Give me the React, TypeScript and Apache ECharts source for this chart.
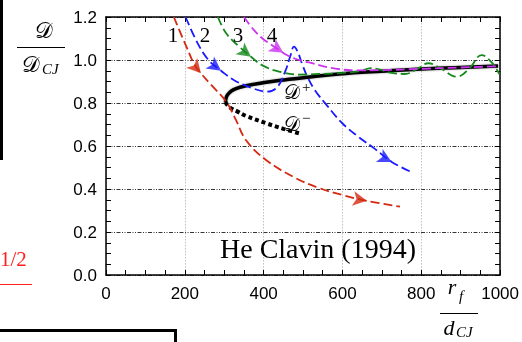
import React, { useEffect, useRef } from "react";
import * as echarts from "echarts";

// ---- data (rf / dCJ, D / DCJ) ----
const curve1Rf = [172, 204, 225, 241, 267, 305, 330, 355, 406, 482, 540, 600, 662, 746];
const curve1D = [1.2, 1.062, 0.977, 0.938, 0.884, 0.806, 0.72, 0.628, 0.535, 0.45, 0.405, 0.372, 0.345, 0.318];

const curve2Rf = [202, 232, 260, 292, 326, 376, 410, 435, 456, 468, 477, 486, 498, 511, 530, 560, 599, 641, 680, 725, 775];
const curve2D = [1.2, 1.08, 1.0, 0.95, 0.905, 0.866, 0.853, 0.875, 0.953, 1.02, 1.062, 1.04, 0.98, 0.922, 0.86, 0.79, 0.707, 0.642, 0.59, 0.526, 0.479];

const curve3Rf = [284, 305, 338, 368, 397, 439, 490, 540, 600, 645, 672, 695, 725, 758, 790, 818, 850, 890, 922, 953, 978, 998];
const curve3D = [1.2, 1.124, 1.062, 1.015, 0.975, 0.946, 0.932, 0.935, 0.94, 0.948, 0.962, 0.955, 0.94, 0.935, 0.958, 0.985, 0.96, 0.922, 0.96, 1.023, 0.99, 0.935];

const curve4Rf = [350, 375, 397, 420, 439, 460, 490, 523, 573, 633, 700, 800, 900, 995];
const curve4D = [1.2, 1.14, 1.1, 1.07, 1.047, 1.022, 1.0, 0.985, 0.963, 0.952, 0.953, 0.959, 0.965, 0.971];

const dPlusRf = [303, 306, 313, 324, 340, 372, 439, 523, 591, 700, 800, 900, 995];
const dPlusD = [0.805, 0.83, 0.848, 0.862, 0.873, 0.886, 0.905, 0.922, 0.935, 0.948, 0.958, 0.965, 0.972];

const dMinusRf = [303, 308, 318, 334, 355, 406, 450, 490];
const dMinusD = [0.805, 0.79, 0.775, 0.76, 0.74, 0.706, 0.68, 0.659];

// arrows: which curve, at which rf
const arrowCurve = [0, 1, 2, 3, 0, 1];
const arrowRf = [241, 292, 368, 450, 662, 725];

const curveLabels = ["1", "2", "3", "4"];
const xMin = 0, xMax = 1000, xStep = 200;
const yMin = 0, yMax = 1.2, yStep = 0.2;

const colors = ["#d42a12", "#1a1aff", "#14881a", "#cc33ee"];
const curves = [
  [curve1Rf, curve1D],
  [curve2Rf, curve2D],
  [curve3Rf, curve3D],
  [curve4Rf, curve4D],
];

function interp(xs: number[], ys: number[], x: number) {
  for (let i = 0; i < xs.length - 1; i++) {
    if (x >= xs[i] && x <= xs[i + 1]) {
      const t = (x - xs[i]) / (xs[i + 1] - xs[i]);
      return ys[i] + t * (ys[i + 1] - ys[i]);
    }
  }
  return ys[ys.length - 1];
}

const pairs = (xs: number[], ys: number[]) => xs.map((x, i) => [x, ys[i]]);

const SERIF = '"Liberation Serif", "DejaVu Serif", serif';
const SANS = '"Liberation Sans", Arial, sans-serif';

export default function App() {
  const ref = useRef<HTMLDivElement>(null);
  useEffect(() => {
    document.body.style.margin = "0";
    const chart = echarts.init(ref.current!, null, { renderer: "svg" });

    const tickStyle = { color: "#000", width: 1 };
    const axisCommon = {
      type: "value" as const,
      axisTick: { show: true, inside: true, length: 5, lineStyle: tickStyle },
      minorTick: { show: true, splitNumber: 4, length: 5, lineStyle: tickStyle },
      axisLine: { show: true, onZero: false, lineStyle: { color: "#000", width: 1.5 } },
    };

    const arrowData = arrowCurve.map((c, i) => [arrowRf[i], interp(curves[c][0], curves[c][1], arrowRf[i])]);

    const series: any[] = [
      {
        type: "line",
        data: pairs(dPlusRf, dPlusD),
        smooth: 0.4,
        showSymbol: false,
        lineStyle: { color: "#000", width: 3.5, shadowColor: "rgba(0,0,0,0.35)", shadowBlur: 2 },
        z: 2,
      },
      {
        type: "line",
        data: pairs(dMinusRf, dMinusD),
        smooth: 0.4,
        showSymbol: false,
        lineStyle: { color: "#000", width: 4, type: [4, 3] },
        z: 2,
      },
      ...curves.map((c, i) => ({
        type: "line",
        data: pairs(c[0], c[1]),
        smooth: 0.4,
        showSymbol: false,
        lineStyle: { color: colors[i], width: 1.8, type: [9, 4] },
        z: 3,
      })),
      ...arrowData.map((p, i) => ({
        id: "arrow" + i,
        type: "scatter",
        data: [p],
        symbol: "arrow",
        symbolSize: [11, 14],
        symbolRotate: 0,
        itemStyle: { color: colors[arrowCurve[i]] },
        z: 4,
      })),
    ];

    const txt = (text: string, x: number, y: number, font: string, extra: any = {}) => ({
      type: "text",
      x,
      y,
      z: 100,
      style: { text, font, fill: "#000", textAlign: "center", textVerticalAlign: "middle", ...extra },
    });

    const graphic: any[] = [
      // left-margin fragments
      { type: "rect", shape: { x: 0, y: 0, width: 3, height: 160 }, style: { fill: "#000" } },
      txt("1/2", 0, 259, `21px ${SERIF}`, { fill: "#ff2020", textAlign: "left" }),
      { type: "line", shape: { x1: 0, y1: 284.5, x2: 32, y2: 284.5 }, style: { stroke: "#ff2020", lineWidth: 1 } },
      { type: "polyline", shape: { points: [[0, 330.5], [175.5, 330.5], [175.5, 342]] }, style: { stroke: "#000", lineWidth: 3, fill: "none" } },
      // y axis label
      txt("𝒟", 44, 30, `22px ${SERIF}`),
      { type: "line", shape: { x1: 17, y1: 47.5, x2: 65, y2: 47.5 }, style: { stroke: "#000", lineWidth: 1 } },
      txt("𝒟", 31, 64, `22px ${SERIF}`),
      txt("CJ", 42, 69, `italic 15px ${SERIF}`, { textAlign: "left" }),
      // x axis label
      txt("r", 452, 286, `italic 22px ${SERIF}`),
      txt("f", 459, 296, `italic 15px ${SERIF}`, { textAlign: "left" }),
      { type: "line", shape: { x1: 440, y1: 313.5, x2: 478, y2: 313.5 }, style: { stroke: "#000", lineWidth: 1 } },
      txt("d", 449, 327, `italic 22px ${SERIF}`),
      txt("CJ", 456, 332, `italic 15px ${SERIF}`, { textAlign: "left" }),
      // curve numbers
      txt(curveLabels[0], 173, 35, `21px ${SERIF}`),
      txt(curveLabels[1], 205, 35, `21px ${SERIF}`),
      txt(curveLabels[2], 238, 35, `21px ${SERIF}`),
      txt(curveLabels[3], 272, 35, `21px ${SERIF}`),
      // D+ / D-
      txt("𝒟", 292, 92, `20px ${SERIF}`),
      txt("+", 302, 87, `15px ${SERIF}`, { textAlign: "left" }),
      txt("𝒟", 292, 124, `20px ${SERIF}`),
      txt("\u2212", 302, 118, `15px ${SERIF}`, { textAlign: "left" }),
      // annotation
      txt("He Clavin (1994)", 220, 248, `28px ${SERIF}`, { textAlign: "left" }),
    ];

    const option: any = {
      animation: false,
      grid: { left: 106, right: 20, top: 17, bottom: 67, show: false },
      xAxis: [
        {
          ...axisCommon,
          min: xMin,
          max: xMax,
          interval: xStep,
          position: "bottom",
          axisLabel: { color: "#000", fontSize: 17, fontFamily: SANS, margin: 10, formatter: (v: number) => String(v) },
          splitLine: { show: true, lineStyle: { color: "#b0b0b0", width: 0.8, type: [1.5, 1.5] } },
        },
        {
          ...axisCommon,
          min: xMin,
          max: xMax,
          interval: xStep,
          position: "top",
          axisLabel: { show: false },
          splitLine: { show: false },
        },
      ],
      yAxis: [
        {
          ...axisCommon,
          min: yMin,
          max: yMax,
          interval: yStep,
          position: "left",
          axisLabel: { color: "#000", fontSize: 17, fontFamily: SANS, margin: 9, formatter: (v: number) => v.toFixed(1) },
          splitLine: { show: true, lineStyle: { color: "#000", width: 0.8, type: [4, 1.5, 1, 1.5, 1, 1.5] } },
        },
        {
          ...axisCommon,
          min: yMin,
          max: yMax,
          interval: yStep,
          position: "right",
          axisLabel: { show: false },
          splitLine: { show: false },
        },
      ],
      series,
      graphic,
    };
    chart.setOption(option);

    // orient arrows along their curves
    const updates = arrowData.map((p, i) => {
      const c = curves[arrowCurve[i]];
      const p0 = chart.convertToPixel({ gridIndex: 0 }, p as number[]) as number[];
      const r1 = arrowRf[i] + 6;
      const p1 = chart.convertToPixel({ gridIndex: 0 }, [r1, interp(c[0], c[1], r1)]) as number[];
      const ang = (Math.atan2(-(p1[1] - p0[1]), p1[0] - p0[0]) * 180) / Math.PI - 90;
      return { id: "arrow" + i, symbolRotate: ang };
    });
    chart.setOption({ series: updates });

    return () => chart.dispose();
  }, []);

  return <div ref={ref} style={{ position: "fixed", left: 0, top: 0, width: 522, height: 342 }} />;
}
